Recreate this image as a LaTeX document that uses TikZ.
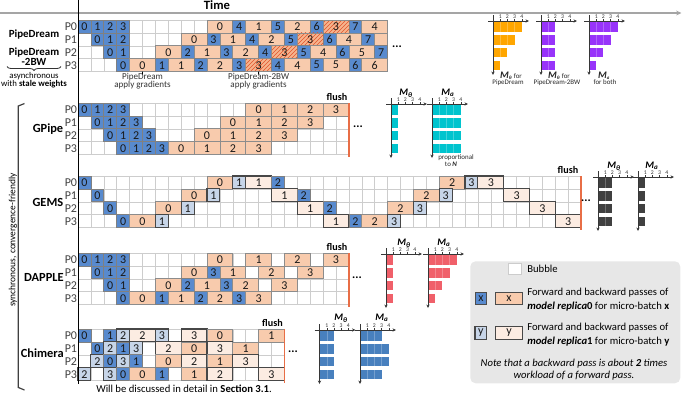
\documentclass[tikz,border=0pt]{standalone}
\usepackage{fontspec}
\setmainfont{Carlito}
\usetikzlibrary{arrows.meta,patterns,decorations.pathreplacing}
\definecolor{fwA}{RGB}{88,138,206}
\definecolor{bwA}{RGB}{248,203,173}
\definecolor{fwB}{RGB}{199,213,232}
\definecolor{bwB}{RGB}{252,236,226}
\definecolor{hatchbase}{RGB}{246,180,142}
\definecolor{hatchline}{RGB}{226,84,44}
\definecolor{gridc}{RGB}{205,205,205}
\definecolor{flushc}{RGB}{232,110,70}
\definecolor{legbg}{RGB}{231,231,231}
\definecolor{barorange}{RGB}{255,166,0}
\definecolor{barpurple}{RGB}{152,52,250}
\definecolor{barcyan}{RGB}{0,196,206}
\definecolor{bargray}{RGB}{64,64,64}
\definecolor{barred}{RGB}{240,96,106}
\definecolor{barblue}{RGB}{72,128,190}
\definecolor{axisc}{RGB}{55,55,55}
\definecolor{timec}{RGB}{165,165,165}
\definecolor{lblc}{RGB}{64,64,64}

\newcommand\cel[5]{\node[#1, minimum width=#4*9.675pt] (\blkname-#2-#3) at ({78+#3*12.9},{\blktop+#2*12.9}) {#5};}
\newcommand\cFa[3]{\cel{fA}{#1}{#2}{1}{#3}}
\newcommand\cBa[3]{\cel{bA}{#1}{#2}{2}{#3}}
\newcommand\cFb[3]{\cel{fB}{#1}{#2}{1}{#3}}
\newcommand\cBb[3]{\cel{bB}{#1}{#2}{2}{#3}}
\newcommand\cHa[3]{\cel{hA}{#1}{#2}{2}{#3}}
\newcommand\gridblk[2]{%
  \foreach \i in {0,...,#2} \draw[gridln] ({78+\i*12.9},#1) -- ({78+\i*12.9},{#1+4*12.9});
  \foreach \j in {0,...,4} \draw[gridln] (78,{#1+\j*12.9}) -- ({78+#2*12.9},{#1+\j*12.9});
}
\newcommand\plabels[1]{\foreach \j in {0,...,3} \node[plbl] (\blkname p\j) at (77.3,{#1+\j*12.9+6.45}) {P\j};}
\newcommand\mchart[4]{%
  \foreach \w [count=\r from 0] in {#4} {
    \fill[#3] (#1,{#2+\r*12.9+2}) rectangle ({#1+\w*7.2},{#2+\r*12.9+11.6});
    \foreach \k in {1,2,3} {
      \ifnum\k<\w\relax
        \draw[white,opacity=0.25,line width=0.3pt] ({#1+\k*7.2},{#2+\r*12.9+2}) -- ({#1+\k*7.2},{#2+\r*12.9+11.6});
      \fi
    }
  }
  \draw[axln] ({#1-5},{#2+1}) -- ({#1+36},{#2+1});
  \draw[axln] (#1,{#2-5}) -- (#1,{#2+55});
  \foreach \k in {1,...,4} {
    \draw[draw=axisc, line width=0.3pt] ({#1+\k*7.2},{#2+1}) -- ({#1+\k*7.2},{#2-0.6});
    \node[ticklbl] at ({#1+\k*7.2},{#2-3.4}) {\k};
  }
}
\newcommand\MthLbl{{\fontsize{7.5}{8}\selectfont\bfseries\itshape M}\textsubscript{\bfseries\itshape θ}}
\newcommand\MaLbl{{\fontsize{7.5}{8}\selectfont\bfseries\itshape M}\textsubscript{\bfseries\itshape a}}

\begin{document}
\begin{tikzpicture}[x=0.75pt,y=-0.75pt,
  cellbase/.style={inner sep=0pt, outer sep=0pt, font=\fontsize{9}{10}\selectfont, text=black!90, anchor=north west, minimum height=9.675pt},
  fA/.style={cellbase, draw=black!50, line width=0.5pt, fill=fwA},
  bA/.style={cellbase, draw=black!45, line width=0.5pt, fill=bwA},
  fB/.style={cellbase, draw=black!72, line width=0.8pt, fill=fwB},
  bB/.style={cellbase, draw=black!72, line width=0.8pt, fill=bwB},
  hA/.style={cellbase, draw=black!45, line width=0.5pt, preaction={fill=hatchbase}, pattern=north east lines, pattern color=hatchline},
  gridln/.style={draw=gridc, line width=0.4pt},
  plbl/.style={font=\fontsize{9}{10}\selectfont, text=lblc, anchor=east, inner sep=0pt},
  blbl/.style={font=\bfseries\fontsize{9.3}{10}\selectfont, anchor=base east, inner sep=0pt},
  flushln/.style={draw=flushc, line width=1pt},
  flushlbl/.style={font=\bfseries\fontsize{7.6}{8}\selectfont, anchor=base east, inner sep=0pt},
  dots/.style={font=\bfseries\fontsize{9}{10}\selectfont, inner sep=0pt},
  axln/.style={draw=axisc, line width=0.55pt, -{Stealth[length=2.6pt,width=2.4pt]}},
  ticklbl/.style={font=\fontsize{4.3}{5}\selectfont, text=black!80, inner sep=0pt},
  mlbl/.style={font=\fontsize{7.5}{8}\selectfont, inner sep=0pt},
  smalltxt/.style={font=\fontsize{5.2}{6}\selectfont, inner sep=0pt, text=black!85},
  gradtxt/.style={font=\fontsize{6.8}{7.5}\selectfont, inner sep=0pt, text=black!80, anchor=base},
  legtxt/.style={font=\fontsize{8}{9}\selectfont, inner sep=0pt, anchor=base west},
]
\useasboundingbox (0,0) rectangle (682,394);

% time axis
\coordinate (tA) at (0,13);
\coordinate (tB) at (681.5,13);
\draw[draw=timec, line width=1.3pt, -{Stealth[length=4pt,width=3.6pt]}] (tA) -- (tB);
\node[font=\bfseries\fontsize{9.5}{10}\selectfont, inner sep=0pt] (time) at (217,5.5) {Time};

% ---------------- PipeDream
\def\blktop{20}\def\blkname{pd}
\gridblk{20}{24}
\plabels{20}
\cFa{0}{0}{0}\cFa{0}{1}{1}\cFa{0}{2}{2}\cFa{0}{3}{3}\cBa{0}{10}{0}\cFa{0}{12}{4}\cBa{0}{13}{1}\cFa{0}{15}{5}\cBa{0}{16}{2}\cFa{0}{18}{6}\cHa{0}{19}{3}\cFa{0}{21}{7}\cBa{0}{22}{4}
\cFa{1}{1}{0}\cFa{1}{2}{1}\cFa{1}{3}{2}\cBa{1}{8}{0}\cFa{1}{10}{3}\cBa{1}{11}{1}\cFa{1}{13}{4}\cBa{1}{14}{2}\cFa{1}{16}{5}\cHa{1}{17}{3}\cFa{1}{19}{6}\cBa{1}{20}{4}\cFa{1}{22}{7}\cel{bA}{1}{23}{1}{}
\cFa{2}{2}{0}\cFa{2}{3}{1}\cBa{2}{6}{0}\cFa{2}{8}{2}\cBa{2}{9}{1}\cFa{2}{11}{3}\cBa{2}{12}{2}\cFa{2}{14}{4}\cHa{2}{15}{3}\cFa{2}{17}{5}\cBa{2}{18}{4}\cFa{2}{20}{6}\cBa{2}{21}{5}\cFa{2}{23}{7}
\cFa{3}{3}{0}\cBa{3}{4}{0}\cFa{3}{6}{1}\cBa{3}{7}{1}\cFa{3}{9}{2}\cBa{3}{10}{2}\cFa{3}{12}{3}\cHa{3}{13}{3}\cFa{3}{15}{4}\cBa{3}{16}{4}\cFa{3}{18}{5}\cBa{3}{19}{5}\cFa{3}{21}{6}\cBa{3}{22}{6}
\node[dots] (pddots) at (397,47) {...};
\coordinate (g1) at (142.5,74.5);
\draw[black, line width=0.7pt] (pd-3-4.south) -- (g1);
\node[gradtxt] (g1a) at (142.5,79.5) {PipeDream};
\node[gradtxt] (g1b) at (142.5,87.5) {apply gradients};
\coordinate (g2) at (258.6,74.5);
\draw[black, line width=0.7pt] (pd-3-13.south) -- (g2);
\node[gradtxt] (g2a) at (258.6,79.5) {PipeDream-2BW};
\node[gradtxt] (g2b) at (258.6,87.5) {apply gradients};
\node[font=\bfseries\fontsize{8.2}{9}\selectfont, inner sep=0pt, anchor=base] (pdname) at (34,37.5) {PipeDream};
\node[font=\bfseries\fontsize{8.2}{9}\selectfont, inner sep=0pt, anchor=base] (pd2a) at (34,55.7) {PipeDream};
\node[font=\bfseries\fontsize{8.2}{9}\selectfont, inner sep=0pt, anchor=base] (pd2b) at (34,65) {-2BW};
\coordinate (brL) at (7,66.5);
\coordinate (brR) at (61,66.5);
\draw[draw=black!80, line width=0.6pt, decorate, decoration={brace, mirror, amplitude=3pt}] (brL) -- (brR);
\node[font=\fontsize{6.6}{7}\selectfont, inner sep=0pt, anchor=base] (async) at (34,78.5) {asynchronous};
\node[font=\fontsize{6.6}{7}\selectfont, inner sep=0pt, anchor=base] (stale) at (34,86) {with \textbf{stale weights}};
% charts
\mchart{493}{20}{barorange}{4,3,2,1}
\mchart{541}{20}{barpurple}{2,2,2,2}
\mchart{589}{20}{barpurple}{4,3,2,1}
\node[smalltxt] (c1a) at (511,75.5) {\MthLbl\ for};
\node[smalltxt] (c1b) at (508,82.5) {PipeDream};
\node[smalltxt] (c2a) at (559,75.5) {\MthLbl\ for};
\node[smalltxt] (c2b) at (557,82.5) {PipeDream-2BW};
\node[smalltxt] (c3a) at (604,75.5) {\MaLbl};
\node[smalltxt] (c3b) at (605,82.5) {for both};

% ---------------- GPipe
\def\blktop{103}\def\blkname{gp}
\gridblk{103}{21}
\plabels{103}
\cFa{0}{0}{0}\cFa{0}{1}{1}\cFa{0}{2}{2}\cFa{0}{3}{3}\cBa{0}{13}{0}\cBa{0}{15}{1}\cBa{0}{17}{2}\cBa{0}{19}{3}
\cFa{1}{1}{0}\cFa{1}{2}{1}\cFa{1}{3}{2}\cFa{1}{4}{3}\cBa{1}{11}{0}\cBa{1}{13}{1}\cBa{1}{15}{2}\cBa{1}{17}{3}
\cFa{2}{2}{0}\cFa{2}{3}{1}\cFa{2}{4}{2}\cFa{2}{5}{3}\cBa{2}{9}{0}\cBa{2}{11}{1}\cBa{2}{13}{2}\cBa{2}{15}{3}
\cFa{3}{3}{0}\cFa{3}{4}{1}\cFa{3}{5}{2}\cFa{3}{6}{3}\cBa{3}{7}{0}\cBa{3}{9}{1}\cBa{3}{11}{2}\cBa{3}{13}{3}
\coordinate (gpf1) at (348.9,103);
\coordinate (gpf2) at (348.9,157);
\draw[flushln] (gpf1) -- (gpf2);
\node[flushlbl] (gpflush) at (347.5,100) {flush};
\node[dots] (gpdots) at (358,127) {...};
\node[blbl] (gpname) at (63.5,132.7) {GPipe};
\mchart{391}{103}{barcyan}{1,1,1,1}
\mchart{432}{103}{barcyan}{4,4,4,4}
\node[mlbl] (gpm1) at (406,93) {\MthLbl};
\node[mlbl] (gpm2) at (448,93) {\MaLbl};
\node[smalltxt] (prop1) at (456,158) {proportional};
\node[smalltxt] (prop2) at (451,164.5) {to \textbf{\textit{N}}};

% ---------------- GEMS
\def\blktop{176}\def\blkname{ge}
\gridblk{176}{39}
\plabels{176}
\cFa{0}{0}{0}\cBa{0}{10}{0}\cFb{0}{12}{1}\cBb{0}{13}{1}\cFa{0}{15}{2}\cBa{0}{28}{2}\cFb{0}{30}{3}\cBb{0}{31}{3}
\cFa{1}{1}{0}\cBa{1}{8}{0}\cFb{1}{10}{1}\cBb{1}{15}{1}\cFa{1}{17}{2}\cBa{1}{26}{2}\cFb{1}{28}{3}\cBb{1}{33}{3}
\cFa{2}{2}{0}\cBa{2}{6}{0}\cFb{2}{8}{1}\cBb{2}{17}{1}\cFa{2}{19}{2}\cBa{2}{24}{2}\cFb{2}{26}{3}\cBb{2}{35}{3}
\cFa{3}{3}{0}\cBa{3}{4}{0}\cFb{3}{6}{1}\cBb{3}{19}{1}\cFa{3}{21}{2}\cBa{3}{22}{2}\cFb{3}{24}{3}\cBb{3}{37}{3}
\coordinate (gef1) at (581.1,176);
\coordinate (gef2) at (581.1,230);
\draw[flushln] (gef1) -- (gef2);
\node[flushlbl] (geflush) at (578.5,173) {flush};
\node[dots] (gedots) at (586,201) {...};
\node[blbl] (gename) at (63.5,206) {GEMS};
\mchart{598}{176}{bargray}{2,2,2,2}
\mchart{638}{176}{bargray}{1,1,1,1}
\node[mlbl] (gem1) at (614,166) {\MthLbl};
\node[mlbl] (gem2) at (652,166) {\MaLbl};

% ---------------- DAPPLE
\def\blktop{253}\def\blkname{da}
\gridblk{253}{21}
\plabels{253}
\cFa{0}{0}{0}\cFa{0}{1}{1}\cFa{0}{2}{2}\cFa{0}{3}{3}\cBa{0}{10}{0}\cBa{0}{13}{1}\cBa{0}{16}{2}\cBa{0}{19}{3}
\cFa{1}{1}{0}\cFa{1}{2}{1}\cFa{1}{3}{2}\cBa{1}{8}{0}\cFa{1}{10}{3}\cBa{1}{11}{1}\cBa{1}{14}{2}\cBa{1}{17}{3}
\cFa{2}{2}{0}\cFa{2}{3}{1}\cBa{2}{6}{0}\cFa{2}{8}{2}\cBa{2}{9}{1}\cFa{2}{11}{3}\cBa{2}{12}{2}\cBa{2}{15}{3}
\cFa{3}{3}{0}\cBa{3}{4}{0}\cFa{3}{6}{1}\cBa{3}{7}{1}\cFa{3}{9}{2}\cBa{3}{10}{2}\cFa{3}{12}{3}\cBa{3}{13}{3}
\coordinate (daf1) at (348.9,253);
\coordinate (daf2) at (348.9,307);
\draw[flushln] (daf1) -- (daf2);
\node[flushlbl] (daflush) at (347.5,250) {flush};
\node[dots] (dadots) at (357,278) {...};
\node[blbl] (daname) at (64,281) {DAPPLE};
\mchart{386}{253}{barred}{1,1,1,1}
\mchart{428}{253}{barred}{4,3,2,1}
\node[mlbl] (dam1) at (404,243) {\MthLbl};
\node[mlbl] (dam2) at (444,243) {\MaLbl};

% ---------------- Chimera
\def\blktop{329}\def\blkname{ch}
\gridblk{329}{16}
\plabels{329}
\cFa{0}{0}{0}\cFa{0}{2}{1}\cFb{0}{3}{2}\cBb{0}{4}{2}\cFb{0}{6}{3}\cBb{0}{8}{3}\cBa{0}{10}{0}\cBa{0}{14}{1}
\cFa{1}{1}{0}\cFb{1}{2}{2}\cFa{1}{3}{1}\cFb{1}{4}{3}\cBb{1}{6}{2}\cBa{1}{8}{0}\cBb{1}{10}{3}\cBa{1}{12}{1}
\cFb{2}{1}{2}\cFa{2}{2}{0}\cFb{2}{3}{3}\cFa{2}{4}{1}\cBa{2}{6}{0}\cBb{2}{8}{2}\cBa{2}{10}{1}\cBb{2}{12}{3}
\cFb{3}{0}{2}\cFb{3}{2}{3}\cFa{3}{3}{0}\cBa{3}{4}{0}\cFa{3}{6}{1}\cBa{3}{8}{1}\cBb{3}{10}{2}\cBb{3}{14}{3}
\coordinate (chf1) at (284.4,329);
\coordinate (chf2) at (284.4,383);
\draw[flushln] (chf1) -- (chf2);
\node[flushlbl] (chflush) at (283,326) {flush};
\node[dots] (chdots) at (293,352) {...};
\node[blbl] (chname) at (64,357) {Chimera};
\mchart{319.5}{329}{barblue}{2,2,2,2}
\mchart{360}{329}{barblue}{3,4,4,3}
\node[mlbl] (chm1) at (341,318) {\MthLbl};
\node[mlbl] (chm2) at (382,318) {\MaLbl};
\node[font=\fontsize{8}{9}\selectfont, inner sep=0pt, anchor=base west] (chnote) at (96,392) {Will be discussed in detail in \textbf{Section 3.1}.};

% left bracket and rotated label
\draw[draw=black!75, line width=0.9pt] (24.5,103.5) -- (18.3,106) -- (18.3,387.5) -- (24.5,390);
\node[rotate=90, font=\fontsize{7.1}{8}\selectfont, inner sep=0pt] (synclbl) at (13,240) {synchronous, convergence-friendly};

% vertical time origin line
\coordinate (vA) at (78,0);
\coordinate (vB) at (78,384);
\draw[black, line width=0.55pt] (vA) -- (vB);

% ---------------- legend
\node[fill=legbg, rounded corners=4pt, minimum width=210*0.75pt, minimum height=122*0.75pt, anchor=north west, inner sep=0pt] (legend) at (470,261) {};
\node[cellbase, draw=black!20, fill=white, line width=0.5pt, minimum width=13.4*0.75pt, minimum height=11.7*0.75pt] (bub) at (508.3,263) {};
\node[legtxt] (bubt) at (527,272) {Bubble};
\node[fA, draw=black!70, minimum width=11.7*0.75pt, minimum height=12.4*0.75pt] (lx1) at (475,292.3) {x};
\node[bA, draw=black!70, minimum width=26.6*0.75pt, minimum height=12.4*0.75pt] (lx2) at (495.7,292.3) {x};
\node[legtxt] (lt1) at (527,295.7) {Forward and backward passes of};
\node[legtxt] (lt2) at (527,309.7) {\textbf{\textit{model replica}0} for micro-batch \textbf{x}};
\node[fB, minimum width=11.7*0.75pt, minimum height=13.4*0.75pt] (ly1) at (475,326.3) {y};
\node[bB, minimum width=26.6*0.75pt, minimum height=13.4*0.75pt] (ly2) at (495.7,326.3) {y};
\node[legtxt] (lt3) at (527,330.7) {Forward and backward passes of};
\node[legtxt] (lt4) at (527,344.3) {\textbf{\textit{model replica}1} for micro-batch \textbf{y}};
\node[font=\itshape\fontsize{8}{9}\selectfont, inner sep=0pt, anchor=base] (note1) at (574,366.3) {Note that a backward pass is about \textbf{2} times};
\node[font=\itshape\fontsize{8}{9}\selectfont, inner sep=0pt, anchor=base] (note2) at (574,378.7) {workload of a forward pass.};
\end{tikzpicture}
\end{document}
